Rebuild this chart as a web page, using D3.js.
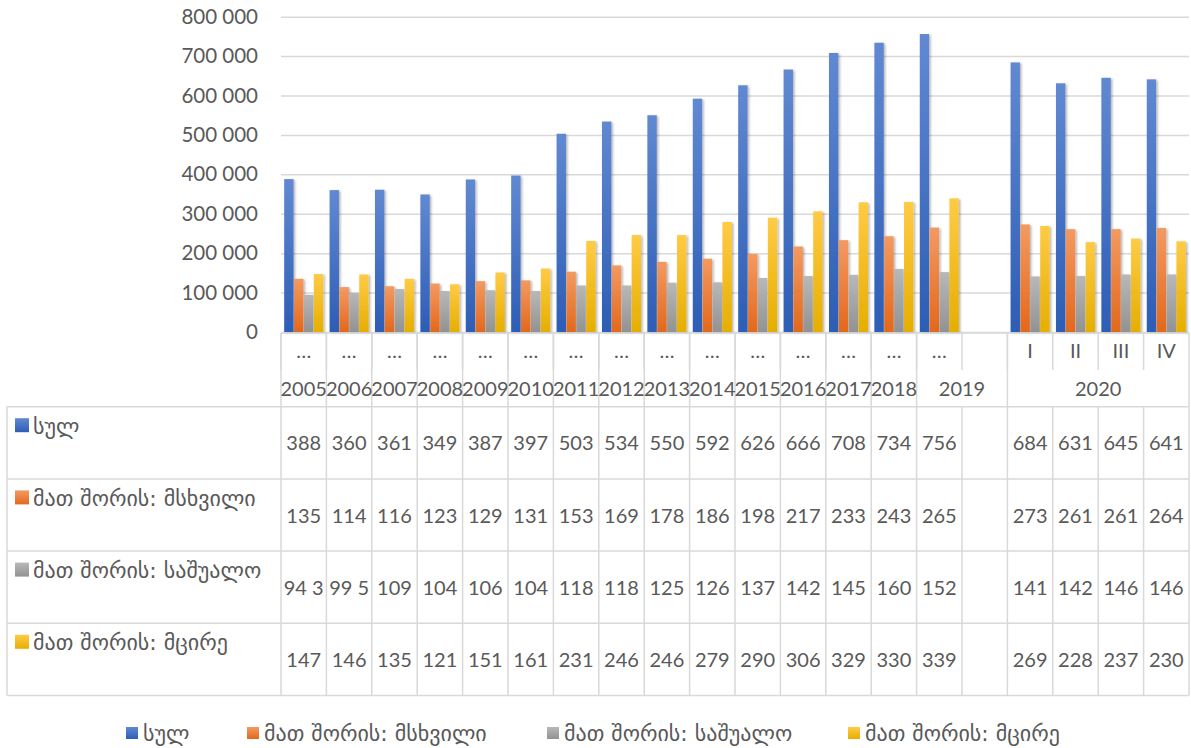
<!DOCTYPE html>
<html><head><meta charset="utf-8">
<script src="https://cdn.jsdelivr.net/npm/d3@7"></script>
<style>body{margin:0;background:#fff}svg{display:block}</style>
</head><body><div id="chart"></div>
<script>
// ---------- data ----------
const columnYear = ["2005","2006","2007","2008","2009","2010","2011","2012","2013","2014","2015","2016","2017","2018","2019","2019","2020","2020","2020","2020"];
const columnSub  = ["…","…","…","…","…","…","…","…","…","…","…","…","…","…","…","","I","II","III","IV"];
const seriesNames = ["სულ","მათ შორის: მსხვილი","მათ შორის: საშუალო","მათ შორის: მცირე"];
// values in thousands
const total  = [388,360,361,349,387,397,503,534,550,592,626,666,708,734,756,null,684,631,645,641];
const large  = [135,114,116,123,129,131,153,169,178,186,198,217,233,243,265,null,273,261,261,264];
const medium = [94.3,99.5,109,104,106,104,118,118,125,126,137,142,145,160,152,null,141,142,146,146];
const small  = [147,146,135,121,151,161,231,246,246,279,290,306,329,330,339,null,269,228,237,230];
const yTicks = [0,100,200,300,400,500,600,700,800];

const seriesValues = [total, large, medium, small];
const seriesColors = [["#6189d2","#2d5db5"],["#f39a62","#e3681c"],["#b8b8b8","#929292"],["#ffcb45","#e6ae00"]];

// ---------- layout ----------
const W = 1191, H = 748;
const plotL = 281, plotR = 1189, plotT = 16.7, plotB = 332;
const headMid = 370, tableTop = 406.7, rowH = 72.2, tableL = 7;
const textColor = "#595959", lineColor = "#d9d9d9";
const numFont = "Lato, 'Open Sans', sans-serif";
const geoFont = "'DejaVu Sans', sans-serif";

const svg = d3.select("#chart").append("svg").attr("width", W).attr("height", H);
const defs = svg.append("defs");
seriesColors.forEach((c, i) => {
  const g = defs.append("linearGradient").attr("id", "grad" + i)
    .attr("x1", 0).attr("y1", 0).attr("x2", 0).attr("y2", 1);
  g.append("stop").attr("offset", "0%").attr("stop-color", c[0]);
  g.append("stop").attr("offset", "100%").attr("stop-color", c[1]);
});
const f = defs.append("filter").attr("id", "shadow").attr("x", "-30%").attr("y", "-5%").attr("width", "170%").attr("height", "115%");
f.append("feDropShadow").attr("dx", 1.5).attr("dy", 1).attr("stdDeviation", 1.2).attr("flood-color", "#000").attr("flood-opacity", 0.3);

const cols = d3.range(columnYear.length);
const xCell = d3.scaleBand().domain(cols).range([plotL, plotR]);
const xBar = d3.scaleBand().domain(cols).range([plotL, plotR]).paddingInner(0.14).paddingOuter(0.07);
const x1 = d3.scaleBand().domain(d3.range(4)).range([0, xBar.bandwidth()]).paddingInner(0.05);
const y = d3.scaleLinear().domain([0, 800]).range([plotB, plotT]);

const loc = d3.formatLocale({decimal: ",", thousands: " ", grouping: [3], currency: ["", ""]});
const fmt = loc.format(",.0f");

// gridlines + y labels
const yAxis = d3.axisLeft(y).tickValues(yTicks).tickSize(-(plotR - plotL)).tickFormat(d => fmt(d * 1000));
const ga = svg.append("g").attr("transform", `translate(${plotL},0)`).call(yAxis);
ga.select(".domain").remove();
ga.selectAll(".tick line").attr("stroke", lineColor).attr("stroke-width", 1.5);
ga.selectAll(".tick text").attr("x", -23).attr("fill", textColor)
  .style("font-family", numFont).style("font-size", "20.5px");

// bars
const barsG = svg.append("g");
seriesValues.forEach((vals, si) => {
  barsG.append("g").selectAll("rect")
    .data(cols.filter(c => vals[c] != null))
    .join("rect")
    .attr("x", c => xBar(c) + x1(si))
    .attr("width", x1.bandwidth())
    .attr("y", c => y(vals[c]))
    .attr("height", c => y(0) - y(vals[c]))
    .attr("fill", `url(#grad${si})`)
    .attr("filter", "url(#shadow)");
});

// ---------- header (category axis) ----------
const lines = svg.append("g").attr("stroke", lineColor).attr("stroke-width", 1.5);
lines.append("line").attr("x1", plotL).attr("x2", plotR).attr("y1", plotB + 1).attr("y2", plotB + 1);
cols.forEach(c => {
  lines.append("line").attr("x1", xCell(c)).attr("x2", xCell(c)).attr("y1", plotB + 1).attr("y2", headMid);
});
const groups = [];
columnYear.forEach((yr, c) => {
  const last = groups[groups.length - 1];
  if (last && last.year === yr) last.end = c; else groups.push({year: yr, start: c, end: c});
});
groups.forEach(g => {
  const x0 = xCell(g.start);
  lines.append("line").attr("x1", x0).attr("x2", x0).attr("y1", plotB + 1).attr("y2", tableTop);
});
lines.append("line").attr("x1", plotR).attr("x2", plotR).attr("y1", plotB + 1).attr("y2", tableTop);

svg.append("g").selectAll("text").data(cols).join("text")
  .attr("x", c => xCell(c) + xCell.bandwidth() / 2)
  .attr("y", 358).attr("text-anchor", "middle")
  .attr("fill", textColor).style("font-family", numFont).style("font-size", "20px")
  .text(c => columnSub[c]);

svg.append("g").selectAll("text").data(groups).join("text")
  .attr("x", g => (xCell(g.start) + xCell(g.end) + xCell.bandwidth()) / 2)
  .attr("y", 396).attr("text-anchor", "middle")
  .attr("fill", textColor).style("font-family", numFont).style("font-size", "20px")
  .text(g => g.year);

// ---------- data table ----------
const tableB = tableTop + rowH * 4;
for (let r = 0; r <= 4; r++) {
  lines.append("line").attr("x1", tableL).attr("x2", plotR)
    .attr("y1", tableTop + r * rowH).attr("y2", tableTop + r * rowH);
}
lines.append("line").attr("x1", tableL).attr("x2", tableL).attr("y1", tableTop).attr("y2", tableB);
cols.concat([cols.length]).forEach(c => {
  const xx = c < cols.length ? xCell(c) : plotR;
  lines.append("line").attr("x1", xx).attr("x2", xx).attr("y1", tableTop).attr("y2", tableB);
});

seriesNames.forEach((name, si) => {
  const top = tableTop + si * rowH;
  svg.append("rect").attr("x", 15).attr("y", top + 11.5).attr("width", 14).attr("height", 14)
    .attr("fill", `url(#grad${si})`);
  svg.append("text").attr("x", 33).attr("y", top + 27).attr("fill", textColor)
    .style("font-family", geoFont).style("font-size", "22px").text(name);

  const vals = seriesValues[si];
  cols.forEach(c => {
    if (vals[c] == null) return;
    const cw = xCell.bandwidth() - 3;
    const t = svg.append("text")
      .attr("x", xCell(c) + xCell.bandwidth() / 2).attr("y", top + rowH / 2 + 7.5)
      .attr("text-anchor", "middle").attr("fill", textColor)
      .style("font-family", numFont).style("font-size", "20px");
    let s = fmt(vals[c] * 1000);
    t.text(s);
    while (s.length > 0 && t.node().getComputedTextLength() > cw) {
      s = s.slice(0, -1);
      t.text(s);
    }
    t.text(s.trimEnd());
  });
});

// ---------- legend ----------
const legendX = [126, 247, 547, 848];
seriesNames.forEach((name, si) => {
  svg.append("rect").attr("x", legendX[si]).attr("y", 727).attr("width", 12).attr("height", 12)
    .attr("fill", `url(#grad${si})`);
  svg.append("text").attr("x", legendX[si] + 17).attr("y", 741).attr("fill", textColor)
    .style("font-family", geoFont).style("font-size", "22px").text(name);
});
</script>
</body></html>
